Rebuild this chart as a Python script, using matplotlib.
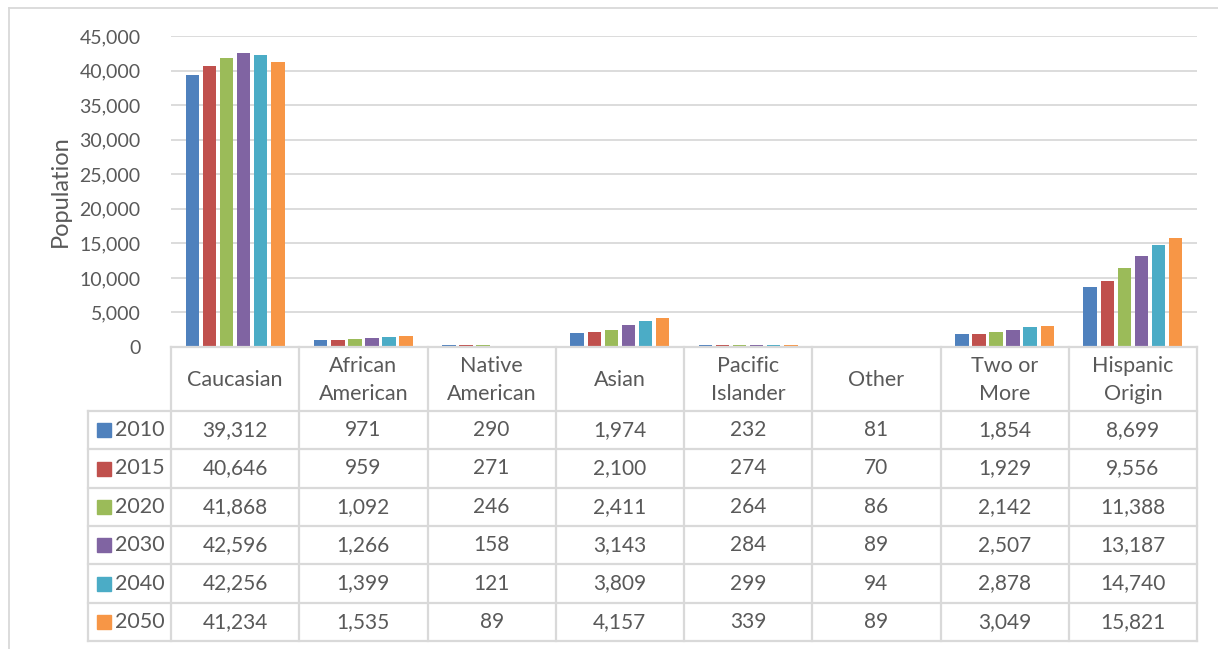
import matplotlib
matplotlib.use("Agg")
import matplotlib.pyplot as plt
from matplotlib.patches import Rectangle
import numpy as np

categories = ["Caucasian", "African\nAmerican", "Native\nAmerican", "Asian",
              "Pacific\nIslander", "Other", "Two or\nMore", "Hispanic\nOrigin"]
years = ["2010", "2015", "2020", "2030", "2040", "2050"]
v2010 = [39312, 971, 290, 1974, 232, 81, 1854, 8699]
v2015 = [40646, 959, 271, 2100, 274, 70, 1929, 9556]
v2020 = [41868, 1092, 246, 2411, 264, 86, 2142, 11388]
v2030 = [42596, 1266, 158, 3143, 284, 89, 2507, 13187]
v2040 = [42256, 1399, 121, 3809, 299, 94, 2878, 14740]
v2050 = [41234, 1535, 89, 4157, 339, 89, 3049, 15821]
series = [v2010, v2015, v2020, v2030, v2040, v2050]
colors = ["#4F81BD", "#C0504D", "#9BBB59", "#8064A2", "#4BACC6", "#F79646"]
yticks = [0, 5000, 10000, 15000, 20000, 25000, 30000, 35000, 40000, 45000]

FONT = "Lato"
TXT = "#595959"
GRID = "#D9D9D9"
W, H = 1218, 649
fig = plt.figure(figsize=(W / 100, H / 100), dpi=100)

def fx(px):
    return px / W

def fy(py):
    return 1 - py / H

# outer chart border
fig.add_artist(plt.Line2D([fx(8.5), fx(8.5)], [fy(7.5), fy(649)], color=GRID, lw=1.3))
fig.add_artist(plt.Line2D([fx(8.5), fx(1218)], [fy(7.5), fy(7.5)], color=GRID, lw=1.3))

# bar chart axes
left, right, top, bottom = 171, 1197, 36, 347
ax = fig.add_axes([fx(left), fy(bottom), fx(right - left), (bottom - top) / H])
n = len(categories)
x = np.arange(n)
bw = 0.105
pitch = 0.133
for i, (vals, c) in enumerate(zip(series, colors)):
    ax.bar(x + (i - 2.5) * pitch, vals, width=bw, color=c, zorder=3)
ax.set_xlim(-0.5, n - 0.5)
ax.set_ylim(0, 45000)
ax.set_yticks(yticks)
ax.set_yticklabels([f"{t:,}" for t in yticks], fontsize=14, family=FONT, color=TXT)
ax.tick_params(axis="y", length=0, pad=22)
ax.set_xticks([])
ax.grid(axis="y", color=GRID, lw=1.3, zorder=0)
for s in ax.spines.values():
    s.set_visible(False)
ax.set_ylabel("Population", fontsize=17, family=FONT, color=TXT, labelpad=6)

# data table drawn in pixel coordinates
tax = fig.add_axes([0, 0, 1, 1], facecolor="none")
tax.set_xlim(0, W)
tax.set_ylim(H, 0)
tax.axis("off")
tl, tc, tr = 88, 171, 1197
t_top, t_head, t_bot = 347, 411, 641
colw = (tr - tc) / n
rowh = (t_bot - t_head) / len(years)
lc = GRID
lw = 1.6
tax.plot([tc, tr], [t_top, t_top], color=lc, lw=lw)
for r in range(len(years) + 1):
    yy = t_head + r * rowh
    tax.plot([tl, tr], [yy, yy], color=lc, lw=lw)
tax.plot([tl, tl], [t_head, t_bot], color=lc, lw=lw)
for cidx in range(n + 1):
    xx = tc + cidx * colw
    tax.plot([xx, xx], [t_top, t_bot], color=lc, lw=lw)
for cidx, cat in enumerate(categories):
    tax.text(tc + (cidx + 0.5) * colw, (t_top + t_head) / 2 + 1, cat, ha="center", va="center",
             fontsize=15.5, family=FONT, color=TXT, linespacing=1.5)
for r, (yr, vals, c) in enumerate(zip(years, series, colors)):
    yc = t_head + (r + 0.5) * rowh
    tax.add_patch(Rectangle((97, yc - 7), 14, 14, color=c))
    tax.text(115, yc, yr, ha="left", va="center", fontsize=15.5, family=FONT, color=TXT)
    for cidx, v in enumerate(vals):
        tax.text(tc + (cidx + 0.5) * colw, yc, f"{v:,}", ha="center", va="center",
                 fontsize=15, family=FONT, color=TXT)

fig.savefig("out.png", dpi=100, facecolor="white")
